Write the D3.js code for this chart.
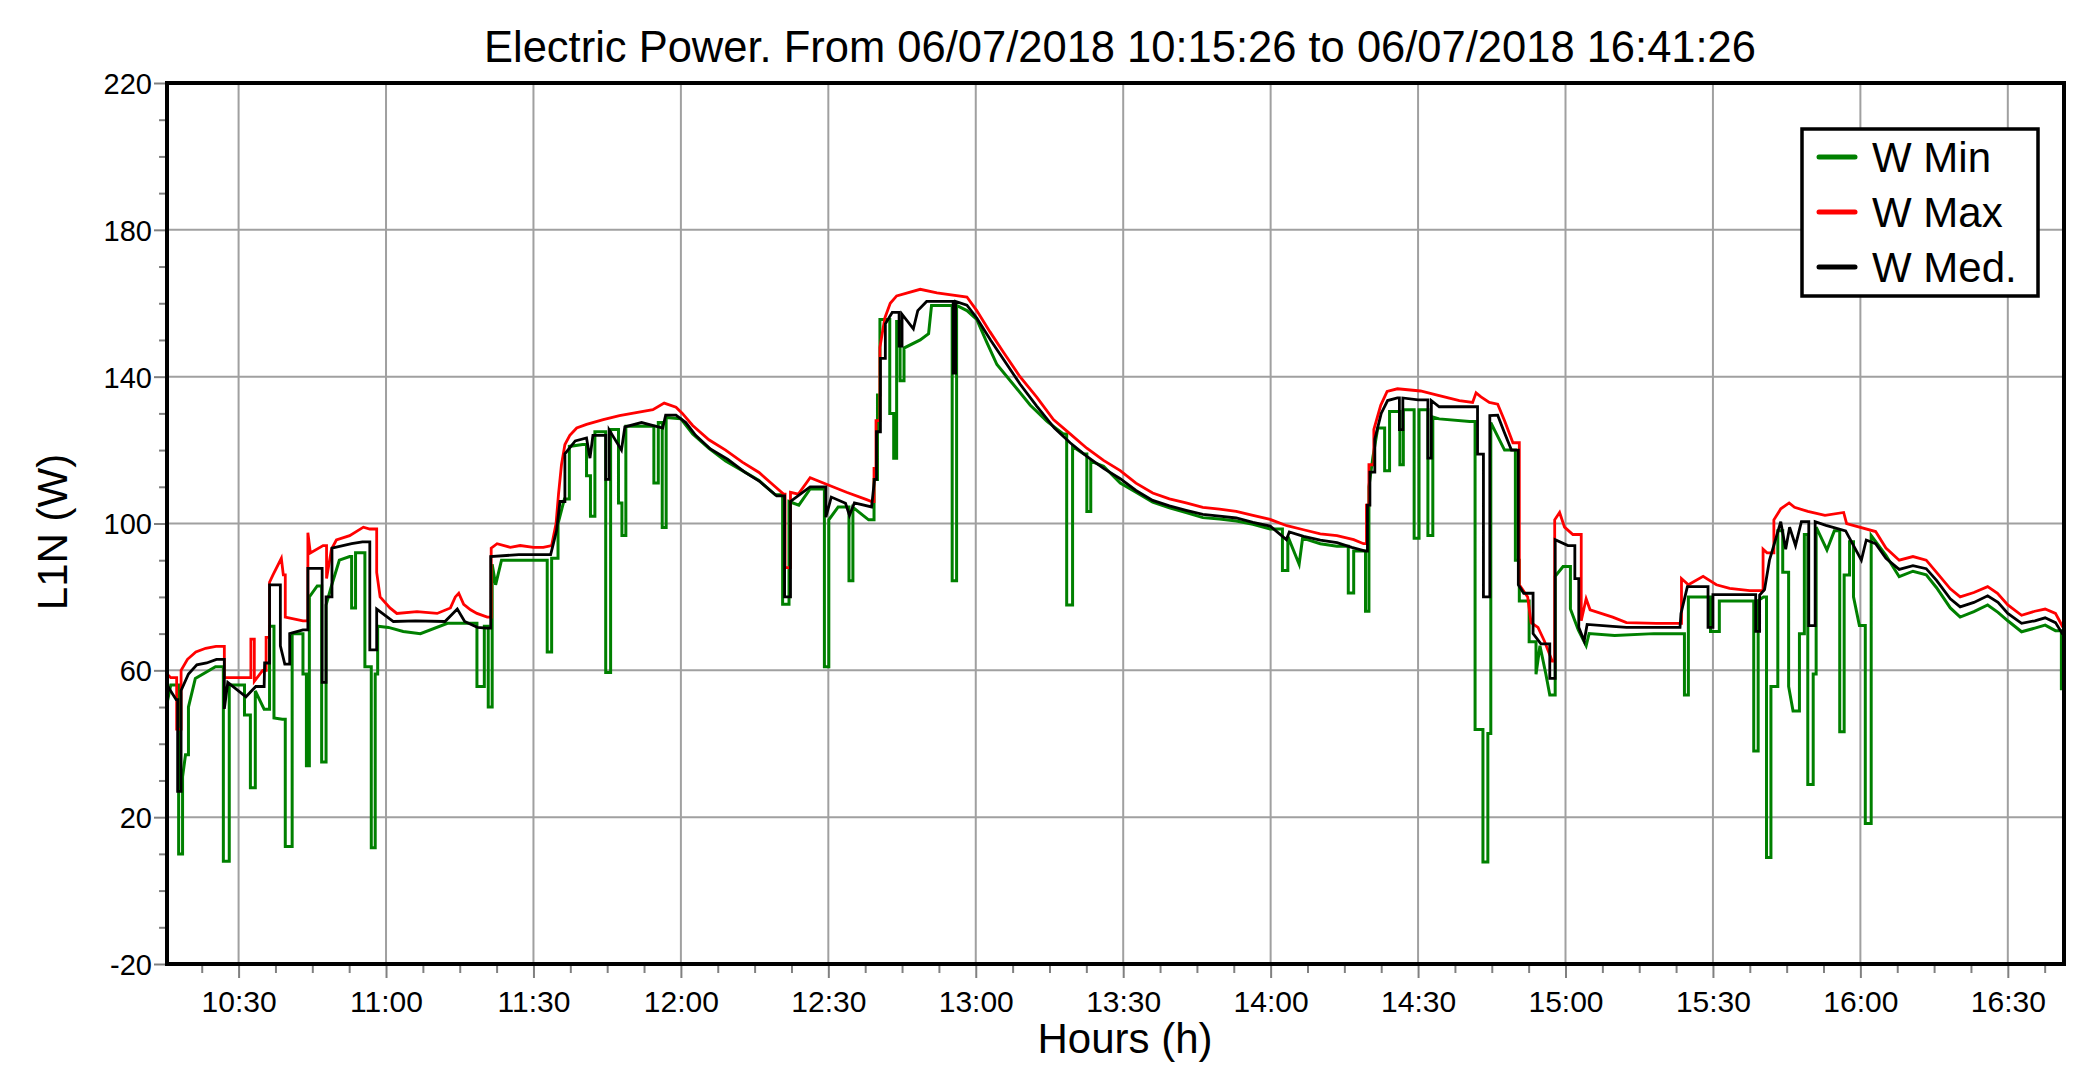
<!DOCTYPE html>
<html><head><meta charset="utf-8">
<script src="https://cdn.jsdelivr.net/npm/d3@7"></script>
<style>
body{margin:0;background:#fff}
svg{display:block}
text{font-family:"Liberation Sans",Arial,sans-serif;fill:#000}
</style>
</head><body>
<svg id="c" width="2096" height="1087"></svg>
<script>
// ---------------- DATA ----------------
const chartTitle = "Electric Power. From 06/07/2018 10:15:26 to 06/07/2018 16:41:26";
const seriesNames = ["W Min", "W Max", "W Med."];
const seriesColors = ["#008000", "#ff0000", "#000000"];
const yTickLabels = [-20, 20, 60, 100, 140, 180, 220];
const xTickLabels = ["10:30","11:00","11:30","12:00","12:30","13:00","13:30","14:00","14:30","15:00","15:30","16:00","16:30"];
const startTime = "10:15:26";
const endTime = "16:41:26";
const yAxisTitle = "L1N (W)";
const xAxisTitle = "Hours (h)";

// [minutes after 10:00, watts]
const wMax = [[15.43,59],[16.2,58],[17.4,44],[18.3,60],[19.6,63],[21.3,65],[23.3,66],[25.4,66.5],[27.1,58],[32.5,68.5],[33.2,57],[34.9,60],[35.6,69],[36.3,84],[37,86],[38.7,90.5],[39.1,86],[39.5,74.5],[43.1,73.5],[44.1,97.5],[44.6,92],[47.2,94],[47.9,85],[48.9,93],[49.9,95.5],[52.6,96.7],[55.4,99],[56.7,98.5],[58.1,86.7],[58.8,80],[60.8,77],[62.2,75.5],[66.3,76],[70.4,75.5],[73.1,77],[74.1,80],[74.8,81],[75.8,78],[77.2,76.5],[78.5,75.5],[80.6,74.5],[81.4,93.3],[82.6,94.5],[85.3,93.5],[87.3,94],[90,93.5],[92,93.5],[93.7,94],[94.6,100],[95.1,108],[95.7,116],[96.4,121.5],[97.4,124],[98.8,126],[100.8,127],[104.2,128.3],[107.5,129.4],[110.9,130.2],[114.3,131],[116.6,132.8],[119,131.7],[120.3,130],[122.4,126.7],[125.7,122.8],[129.1,120],[132.5,116.7],[135.9,113.9],[139.2,110],[140.9,108],[141.2,88],[142.3,108.5],[143.9,108],[146.3,112.5],[150,110.5],[153.7,108.5],[157.8,106.5],[158.8,106],[159.3,115],[159.7,128],[160.5,148],[161.5,156],[162.6,160],[163.9,162],[168.7,163.8],[172.1,162.8],[178.2,161.7],[180.2,158],[182.9,152.2],[185.6,146.7],[189,140],[192.4,134.4],[195.8,128.3],[199.2,124.4],[202.6,120.5],[206,117.2],[209.4,114.4],[212.6,111],[216,108.3],[219.4,106.7],[222.8,105.6],[226.2,104.4],[229.6,103.9],[233,103.3],[236.4,102.2],[239.9,101.1],[243.3,99.4],[246.7,98.3],[250.1,97.2],[253.5,96.7],[256.9,95.6],[258.9,94.5],[259.5,105],[260,116],[261,125.6],[262.4,132.2],[263.7,136],[265.8,136.7],[270.5,136.1],[273.9,135],[278.4,133.5],[281.1,133],[281.8,135.6],[282.8,134.5],[284.5,133],[286.2,132.5],[287.6,128],[289.3,122],[290.6,83.3],[292.3,80],[293,73],[294.4,71.7],[295.7,68],[297.3,62.5],[297.8,101],[298.8,103],[299.8,99],[301.5,97],[303.2,73.5],[304.2,79.5],[305,76.5],[309.6,74.5],[312.4,73],[318.5,72.8],[323.6,85],[325,83.3],[328,85.6],[330.7,83.3],[333.4,82.3],[337.5,81.7],[340.2,93],[341,92],[342.4,101],[343.8,104],[345.5,105.6],[346.6,104.4],[349.3,103.3],[352.8,102.2],[356.6,103],[357.2,100],[363.1,97.8],[365.2,93.3],[367.9,90],[370.7,91],[373.4,90],[375.5,86.7],[378.3,82.2],[380.3,80],[383.1,81.2],[385.9,82.8],[387.9,81],[390,77.8],[392.8,75],[395.5,76.1],[397.6,76.7],[399.7,75.5],[401.1,72],[401.43,72]];

const wMed = [[15.43,56],[17.3,52],[17.6,27],[18.3,54.5],[19.8,59],[21.5,61.5],[23.5,62],[25.5,63],[27.1,49.5],[27.8,56.7],[31.5,52.8],[33.5,55.6],[35.2,55.6],[35.3,62],[36.3,83.3],[38.5,66.7],[39.4,61.7],[40.4,70],[43.1,71],[44.1,87.8],[47,56.7],[47.8,80],[49,93.3],[53,94.5],[55.2,95],[56.7,65.6],[58.1,76.7],[61.5,73.3],[66,73.5],[72,73.3],[74.5,76.7],[76,73.3],[78.6,71.7],[80.5,71.5],[81.3,91],[87,91.5],[93.5,91.5],[94.7,98],[95.4,106],[96.4,119],[98.5,122.5],[100.8,123.3],[101.5,117.8],[102.1,124],[104.7,112],[105.4,125.5],[107.9,120],[108.6,126.3],[112,127.5],[116.3,126],[116.9,129.5],[119,129.5],[121,127.5],[123,124],[126,120.3],[129.5,117.5],[133,114],[136,111.5],[139.5,107.5],[141.1,80],[142.3,106],[146.3,110],[149.5,101.7],[150.6,107.2],[153.5,105.5],[154.3,102.2],[155.3,105.6],[158.8,104.5],[159.4,112],[159.8,125],[160.6,145],[161.6,154.4],[163,157.5],[164.4,148.3],[165,157],[167.3,153],[168.2,158],[170,160.5],[175.4,141],[175.9,160.5],[178.2,159.5],[180.2,156],[183,150],[186,144],[189,138],[192.4,132],[196,126],[199.2,122],[202.6,118.3],[206,115],[209.4,112.2],[212.6,109],[216,106.3],[219.4,104.8],[222.8,103.6],[226.2,102.5],[229.6,102],[233,101.5],[236.4,100.3],[239.9,99.3],[243.2,95.6],[243.8,97.7],[246.7,96.5],[250.1,95.5],[253.5,94.8],[256.5,93.5],[259.3,92.5],[259.7,105],[260.2,114],[261.2,123],[262.5,130],[263.8,133.5],[265.8,134.2],[266.2,125.6],[266.9,134.2],[270,133.7],[272,117.8],[272.7,133.5],[274.3,131.8],[282.1,118.9],[283.3,80],[284.6,129.4],[286.2,129.5],[287.5,125],[289,120],[290.4,83.3],[291.5,81],[293.4,70],[295,67.2],[296.8,57.8],[297.9,95.6],[300.5,94],[301.9,85],[302.7,71.7],[303.8,68],[304.4,72.5],[309.6,72],[312.4,71.7],[323.3,71.7],[323.5,75.5],[324.8,82.8],[329,71.7],[330,80.6],[338.7,70.6],[339.5,80.5],[340.5,82],[341.5,90],[342.6,95],[343.8,100.5],[344.8,93],[345.6,99],[346.8,94],[348,100.5],[349.5,72.2],[350.8,100.5],[353,99.5],[357,98],[360.2,90],[361.2,95.5],[363.1,94.5],[365.2,90.5],[367.9,87.5],[370.7,88.5],[373.4,87.7],[375.5,84.5],[378.3,79.5],[380.3,77.3],[383.1,78.5],[385.9,80.3],[388,78.5],[390,75.5],[392.8,72.8],[395.5,73.5],[397.6,74.3],[399.7,73],[401.1,70],[401.43,70]];

const wMin = [[15.43,51],[16.2,56],[17.8,10],[18.6,31],[19.2,37],[19.8,50],[21.2,57.8],[25.3,61],[26.9,8],[28.1,56],[31.2,47.8],[32.4,28],[33.4,54.4],[35.2,49.4],[36.3,72],[37.2,47],[38.9,46.7],[39.5,12],[40.9,70],[43.1,59],[43.8,34],[44.4,80],[46,83],[46.9,35],[47.8,77.8],[48.9,83],[50.5,90],[52.6,91],[53,77],[53.8,92],[55.7,61],[57,11.7],[57.8,59],[58.3,72],[60.5,71.7],[63.5,70.6],[67,70],[72.5,72.8],[78.5,55.6],[80,72],[80.8,50],[81.6,88.9],[82.3,83.3],[83.5,90],[92.8,65],[93.7,90.5],[95,100],[96.3,106.7],[97.3,121],[100,121.5],[100.8,113],[101.6,102],[102.5,125],[104.7,59.4],[105.7,125.6],[107.3,105.6],[108,96.7],[108.8,126.5],[114.5,111],[115.4,127.5],[116.2,98.9],[117,128.9],[120,128.5],[122.4,124.4],[125.7,120.5],[129.1,117],[132.5,114.4],[135.9,111.7],[139.2,107.8],[140.7,78],[142,106],[144,105],[146.3,109.4],[149.2,61],[150.1,101],[152,104.5],[154.2,84.4],[155,104.4],[158.2,101],[159.3,112],[160,135],[160.5,155.6],[162.5,130],[163.3,117.8],[163.9,155],[164.6,138.9],[165.4,147.8],[168.7,150],[170.4,151.7],[171,159.4],[175.2,84.4],[176.1,159.4],[178.2,158],[180.2,155.6],[182.2,149.5],[184.3,143.3],[187.7,137.8],[191.1,132.2],[194.5,127.8],[197.8,124.4],[198.5,77.8],[199.7,121],[202,118.9],[202.6,103.3],[203.4,117],[206,115.6],[209.4,111],[212.6,108.5],[216,105.8],[219.4,104.3],[222.8,103],[226.2,101.6],[229.6,101.2],[233,100.7],[236.4,99.8],[239.9,98.5],[242.4,87.2],[243.5,96.5],[245.8,88.9],[246.5,96],[250.1,94.5],[253.5,93.8],[255.8,81.1],[256.9,92.5],[259.3,76.1],[260,110],[260.8,118],[261.8,126],[263.2,114.4],[264.2,130.5],[266.3,116],[267,131],[269.2,96],[270.2,131],[272,96.7],[273,129],[274.3,128.5],[280.5,127.8],[281.6,43.9],[283.2,7.8],[284.2,42.8],[284.8,127.5],[287.6,120],[289.8,90],[290.6,78.9],[292.6,67.8],[294,58.9],[294.8,66.7],[296,59],[296.8,53.3],[297.9,85.6],[299.5,88.3],[301,76.7],[302.6,71],[304.2,66.7],[304.8,70],[310,69.5],[318,70],[324.2,53.3],[325,80],[328.6,80],[329.5,70.6],[331.3,78.9],[338.3,38],[339.2,79],[340.3,80],[340.9,9],[341.8,55.6],[343.2,98],[344.2,86.7],[345.4,55.6],[346.3,48.9],[347.6,70],[348.6,97],[349.3,28.9],[350.4,59],[351,99],[353.2,92.8],[354.7,98],[355.8,43.3],[356.7,86],[357.8,95],[358.6,80],[359.8,72.2],[361,18.3],[362.2,96.7],[365.2,91.3],[367.9,85.5],[370.7,87],[373.4,86],[375.5,82.5],[378.3,77],[380.3,74.5],[383.1,76],[385.9,77.8],[388,75.8],[390,73.5],[392.8,70.5],[395.5,71.5],[397.6,72.3],[399.7,70.8],[400.9,55],[401.43,55]];

// ---------------- DRAW ----------------
const svg = d3.select("#c");
const plot = {left:167, right:2064, top:83, bottom:964};
const parseHMS = d3.timeParse("%H:%M:%S");
const parseHM = d3.timeParse("%H:%M");
const base = parseHMS("10:00:00");
const toDate = m => new Date(base.getTime() + m * 60000);

const x = d3.scaleTime().domain([parseHMS(startTime), parseHMS(endTime)]).range([plot.left, plot.right]);
const y = d3.scaleLinear().domain([d3.min(yTickLabels), d3.max(yTickLabels)]).range([plot.bottom, plot.top]);

const xMajor = xTickLabels.map(s => parseHM(s));
const xMinor = d3.range(0, 60).map(i => new Date(base.getTime() + i * 7.5 * 60000))
  .filter(d => d >= x.domain()[0] && d <= x.domain()[1] && !xMajor.some(m => +m === +d));
const yMinor = d3.range(-10, 220, 10).filter(v => !yTickLabels.includes(v));

// gridlines
const grid = svg.append("g").attr("stroke", "#a0a0a0").attr("stroke-width", 2);
grid.selectAll("line.v").data(xMajor).join("line")
  .attr("x1", d => x(d)).attr("x2", d => x(d)).attr("y1", plot.top).attr("y2", plot.bottom);
grid.selectAll("line.h").data(yTickLabels).join("line")
  .attr("x1", plot.left).attr("x2", plot.right).attr("y1", d => y(d)).attr("y2", d => y(d));

// clip
svg.append("defs").append("clipPath").attr("id", "clip").append("rect")
  .attr("x", plot.left).attr("y", plot.top).attr("width", plot.right - plot.left).attr("height", plot.bottom - plot.top);

// big jumps drawn as steps, small drift drawn as straight segments
function stepify(data) {
  const out = [];
  data.forEach((p, i) => {
    if (i > 0 && Math.abs(p[1] - data[i - 1][1]) > 8) out.push([p[0], data[i - 1][1]]);
    out.push(p);
  });
  return out;
}
const line = d3.line().x(d => x(toDate(d[0]))).y(d => y(d[1])).curve(d3.curveLinear);
const seriesData = [wMin, wMax, wMed];
const lineG = svg.append("g").attr("clip-path", "url(#clip)");
seriesData.forEach((s, i) => {
  lineG.append("path").attr("d", line(stepify(s)))
    .attr("fill", "none").attr("stroke", seriesColors[i])
    .attr("stroke-width", i === 0 ? 3 : 2.8).attr("stroke-linejoin", "miter");
});

// axes ticks
const xAxis = d3.axisBottom(x).tickValues(xMajor).tickFormat(d3.timeFormat("%H:%M")).tickSize(14).tickPadding(0);
const gx = svg.append("g").attr("transform", `translate(0,${plot.bottom})`).call(xAxis);
gx.select(".domain").remove();
gx.selectAll(".tick line").attr("stroke", "#808080").attr("stroke-width", 2);
gx.selectAll(".tick text").attr("y", 48).attr("dy", 0).attr("font-size", 30)
  .attr("font-family", '"Liberation Sans", Arial, sans-serif').attr("fill", "#111");
const gxm = svg.append("g").attr("transform", `translate(0,${plot.bottom})`)
  .call(d3.axisBottom(x).tickValues(xMinor).tickFormat("").tickSize(9));
gxm.select(".domain").remove();
gxm.selectAll(".tick line").attr("stroke", "#808080").attr("stroke-width", 2);

const yAxis = d3.axisLeft(y).tickValues(yTickLabels).tickFormat(d => String(d)).tickSize(13).tickPadding(0);
const gy = svg.append("g").attr("transform", `translate(${plot.left},0)`).call(yAxis);
gy.select(".domain").remove();
gy.selectAll(".tick line").attr("stroke", "#808080").attr("stroke-width", 2);
gy.selectAll(".tick text").attr("x", -15).attr("dy", "0.36em").attr("font-size", 29)
  .attr("font-family", '"Liberation Sans", Arial, sans-serif').attr("fill", "#111");
const gym = svg.append("g").attr("transform", `translate(${plot.left},0)`)
  .call(d3.axisLeft(y).tickValues(yMinor).tickFormat("").tickSize(8));
gym.select(".domain").remove();
gym.selectAll(".tick line").attr("stroke", "#808080").attr("stroke-width", 2);

// frame
svg.append("rect").attr("x", plot.left).attr("y", plot.top)
  .attr("width", plot.right - plot.left).attr("height", plot.bottom - plot.top)
  .attr("fill", "none").attr("stroke", "#000").attr("stroke-width", 4);

// title & axis titles
svg.append("text").attr("x", 1120).attr("y", 62).attr("text-anchor", "middle")
  .attr("font-size", 43.5).text(chartTitle);
svg.append("text").attr("x", 1125).attr("y", 1053).attr("text-anchor", "middle")
  .attr("font-size", 42).text(xAxisTitle);
svg.append("text").attr("transform", "translate(67,532) rotate(-90)").attr("text-anchor", "middle")
  .attr("font-size", 42).text(yAxisTitle);

// legend
const lg = svg.append("g");
lg.append("rect").attr("x", 1802).attr("y", 129).attr("width", 236).attr("height", 167)
  .attr("fill", "#fff").attr("stroke", "#000").attr("stroke-width", 3.5);
seriesNames.forEach((n, i) => {
  const cy = 157 + i * 55;
  lg.append("line").attr("x1", 1819).attr("x2", 1855).attr("y1", cy).attr("y2", cy)
    .attr("stroke", seriesColors[i]).attr("stroke-width", 5).attr("stroke-linecap", "round");
  lg.append("text").attr("x", 1872).attr("y", cy).attr("dy", "0.36em").attr("font-size", 42).text(n);
});
</script>
</body></html>
